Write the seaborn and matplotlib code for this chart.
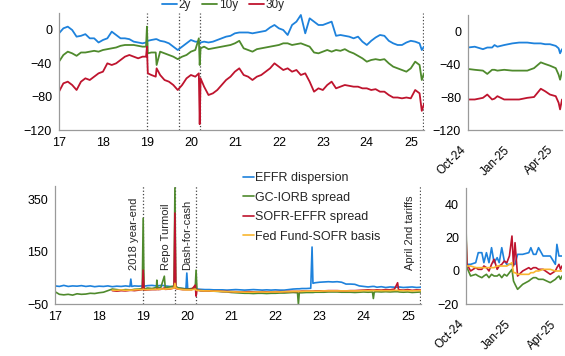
"""
Spreads de swap e indicadores de mercado monetário (recriação do gráfico)
"""
import numpy as np
import pandas as pd
import seaborn as sns
import matplotlib.pyplot as plt
import matplotlib.dates as mdates

nan = np.nan

# ---------------- dados: painel superior (anos, 17 = 2017) ----------------
years_top = [17.0, 17.1, 17.2, 17.3, 17.4, 17.5, 17.6, 17.7, 17.8, 17.9,
             18.0, 18.1, 18.2, 18.3, 18.4, 18.5, 18.6, 18.7, 18.8, 18.9,
             18.98, 19.0, 19.02, 19.1, 19.2, 19.22, 19.3, 19.4, 19.5, 19.6,
             19.7, 19.8, 19.9, 20.0, 20.1, 20.18, 20.2, 20.22, 20.3, 20.4,
             20.5, 20.6, 20.7, 20.8, 20.9, 21.0, 21.1, 21.2, 21.3, 21.4,
             21.5, 21.6, 21.7, 21.8, 21.9, 22.0, 22.1, 22.2, 22.3, 22.4,
             22.5, 22.6, 22.7, 22.8, 22.9, 23.0, 23.1, 23.2, 23.3, 23.4,
             23.5, 23.6, 23.7, 23.8, 23.9, 24.0, 24.1, 24.2, 24.3, 24.4,
             24.5, 24.6, 24.7, 24.8, 24.9, 25.0, 25.1, 25.2, 25.25, 25.3]

spread_2y = [-4, 2, 4, 0, -8, -7, -5, -10, -10, -15,
             -12, -10, -2, -6, -10, -10, -11, -14, -15, -16,
             -15, -14, -13, -12, -11, -11, -13, -14, -16, -20,
             -24, -20, -16, -12, -14, -14, -16, -15, -14, -15,
             -14, -12, -10, -8, -7, -4, -3, -3, -3, -4,
             -3, -2, -1, 3, 6, 2, 0, -6, 6, 10,
             18, -4, 14, 10, 6, 6, 8, 10, -7, -6,
             -7, -8, -10, -8, -14, -18, -13, -9, -6, -7,
             -13, -16, -18, -18, -15, -13, -14, -16, -24, -20]

spread_10y = [-38, -30, -26, -28, -31, -27, -27, -26, -25, -26,
              -24, -23, -22, -21, -19, -18, -18, -18, -19, -20,
              -20, 4, -28, -27, -27, -42, -26, -28, -30, -32,
              -35, -32, -30, -26, -24, -10, -42, -22, -20, -23,
              -22, -21, -20, -19, -18, -16, -13, -22, -24, -26,
              -23, -22, -21, -20, -19, -18, -16, -16, -18, -17,
              -16, -18, -20, -27, -28, -26, -24, -26, -24, -25,
              -23, -26, -28, -31, -34, -38, -36, -35, -36, -35,
              -40, -44, -46, -48, -50, -46, -38, -42, -60, -52]

spread_30y = [-74, -64, -62, -66, -72, -62, -58, -60, -56, -52,
              -50, -40, -42, -40, -36, -32, -30, -32, -34, -32,
              -32, -20, -52, -54, -56, -46, -54, -60, -62, -66,
              -72, -66, -58, -54, -56, -52, -113, -58, -68, -78,
              -76, -72, -66, -60, -56, -50, -46, -54, -56, -60,
              -56, -54, -50, -46, -40, -44, -48, -46, -50, -48,
              -54, -52, -62, -74, -70, -72, -66, -62, -70, -68,
              -66, -67, -68, -68, -70, -70, -72, -71, -74, -74,
              -78, -81, -81, -82, -81, -82, -72, -76, -97, -89]

# zoom Out-24 a Abr-25
dates_zoom_top = ['2024-10-01', '2024-10-15', '2024-11-01', '2024-11-10', '2024-11-20',
                  '2024-11-25', '2024-12-01', '2024-12-15', '2025-01-01', '2025-01-15',
                  '2025-02-01', '2025-02-15', '2025-03-01', '2025-03-10', '2025-03-20',
                  '2025-04-01', '2025-04-07', '2025-04-10', '2025-04-14']
zoom_2y = [-20, -19, -22, -20, -20, -17, -19, -17, -15, -14,
           -14, -15, -15, -16, -16, -18, -21, -27, -22]
zoom_10y = [-46, -47, -48, -52, -47, -47, -48, -47, -48, -48,
            -48, -45, -38, -40, -42, -45, -53, -59, -49]
zoom_30y = [-83, -83, -81, -77, -83, -82, -79, -83, -83, -83,
            -81, -80, -70, -73, -77, -79, -87, -95, -83]

# ---------------- dados: painel inferior ----------------
years_bottom = [17.0, 17.1, 17.2, 17.3, 17.4, 17.5, 17.6, 17.7, 17.8, 17.9,
                18.0, 18.1, 18.2, 18.3, 18.4, 18.5, 18.6, 18.7, 18.72, 18.74,
                18.8, 18.9, 18.98, 19.0, 19.02, 19.1, 19.2, 19.3, 19.31, 19.33,
                19.4, 19.48, 19.5, 19.6, 19.7, 19.72, 19.74, 19.8, 19.9, 19.97,
                19.99, 20.01, 20.1, 20.18, 20.2, 20.22, 20.3, 20.4, 20.5, 20.6,
                20.7, 20.8, 20.9, 21.0, 21.1, 21.2, 21.3, 21.4, 21.5, 21.6,
                21.7, 21.8, 21.9, 22.0, 22.1, 22.2, 22.3, 22.4, 22.5, 22.52,
                22.54, 22.6, 22.7, 22.8, 22.83, 22.85, 22.9, 23.0, 23.1, 23.2,
                23.3, 23.4, 23.5, 23.6, 23.7, 23.8, 23.9, 24.0, 24.1, 24.2,
                24.22, 24.24, 24.3, 24.4, 24.5, 24.6, 24.7, 24.77, 24.79, 24.8,
                24.9, 25.0, 25.1, 25.2, 25.3]

effr_dispersion = [20, 18, 22, 18, 20, 19, 21, 18, 20, 17,
                   19, 18, 20, 17, 19, 18, 20, 18, 46, 18,
                   20, 19, 20, 20, 19, 21, 22, 20, 20, 20,
                   22, 21, 20, 18, 16, 16, 14, 12, 10, 9,
                   69, 9, 9, 9, 8, 8, 7, 6, 6, 5,
                   5, 5, 4, 5, 6, 5, 4, 5, 6, 5,
                   4, 5, 4, 5, 4, 4, 6, 8, 9, 9,
                   9, 10, 10, 11, 168, 30, 32, 34, 35, 36,
                   35, 36, 34, 27, 27, 26, 20, 18, 16, 18,
                   18, 18, 15, 17, 14, 16, 15, 15, 15, 16,
                   14, 15, 16, 14, 15]

gc_iorb = [-2, -12, -14, -12, -15, -10, -12, -11, -8, -9,
           -6, -4, 2, 8, 6, 4, 6, 5, 5, 5,
           7, 8, 10, 277, 8, 12, 10, 14, 42, 12,
           14, 57, 14, 16, 20, 393, 18, 12, 10, 8,
           8, 8, 10, 12, 80, 6, 2, 1, 0, 0,
           -1, -2, -3, -5, -6, -7, -8, -8, -9, -8,
           -8, -9, -8, -8, -7, -7, -6, -5, -6, -50,
           -6, -6, -5, -5, -5, -5, -4, -4, -4, -3,
           -3, -3, -4, -4, -4, -5, -4, -3, -4, -3,
           -28, -3, -2, -3, -2, -3, -2, -2, -2, -3,
           -4, -3, -5, -4, -3]

sofr_effr = [nan, nan, nan, nan, nan, nan, nan, nan, nan, nan,
             nan, nan, nan, 2, 0, 2, 1, 3, 3, 3,
             2, 4, 6, 80, 4, 5, 6, 6, 10, 6,
             7, 12, 7, 8, 12, 297, 10, 8, 6, 6,
             6, 6, 6, 23, -19, 4, 2, 1, 1, 0,
             0, -1, -1, -2, -2, -3, -3, -2, -3, -3,
             -2, -3, -3, -2, -2, -2, -1, -1, -1, -1,
             -1, 0, 0, 0, 0, 0, 1, 1, 1, 2,
             2, 2, 1, 1, 2, 2, 3, 4, 5, 4,
             4, 4, 5, 4, 6, 5, 8, 32, 6, 5,
             4, 6, 3, 5, 4]

ff_sofr_basis = [nan, nan, nan, nan, nan, nan, nan, nan, nan, nan,
                 nan, nan, nan, 4, 3, 5, 3, 4, 4, 4,
                 5, 6, 6, 8, 6, 6, 7, 7, 7, 7,
                 8, 8, 8, 9, 12, 30, 12, 8, 6, 5,
                 5, 5, 5, 8, 4, 3, 2, 1, 1, 0,
                 0, -1, -2, -2, -3, -3, -4, -4, -4, -3,
                 -3, -4, -3, -3, -3, -2, -2, -1, -1, -1,
                 -1, -1, 0, 0, 0, 0, 0, 0, 1, 1,
                 1, 1, 1, 1, 1, 1, 1, 2, 2, 2,
                 2, 2, 2, 2, 2, 2, 3, 3, 3, 2,
                 2, 2, 1, 2, 2]

dates_zoom_bottom = ['2024-10-01', '2024-10-03', '2024-10-10', '2024-10-20', '2024-10-25',
                     '2024-11-01', '2024-11-05', '2024-11-10', '2024-11-15', '2024-11-20',
                     '2024-11-25', '2024-12-01', '2024-12-05', '2024-12-10', '2024-12-15',
                     '2024-12-20', '2024-12-25', '2024-12-30', '2025-01-02', '2025-01-05',
                     '2025-01-10', '2025-01-20', '2025-02-01', '2025-02-05', '2025-02-10',
                     '2025-02-15', '2025-02-20', '2025-03-01', '2025-03-15', '2025-03-25',
                     '2025-03-28', '2025-04-01', '2025-04-04', '2025-04-07']
zoom_effr = [4, 4, 4, 5, 11, 11, 5, 11, 5, 14,
             5, 8, 5, 14, 6, 4, 4, 4, 4, 4,
             10, 10, 11, 14, 10, 10, 14, 9, 9, 4,
             16, 9, 9, 9]
zoom_gc = [26, 2, -3, -2, -3, -4, -3, -2, -4, -2,
           -3, -3, -2, -4, -2, -3, -1, 1, -6, -8,
           -11, -8, -6, -5, -4, -4, -5, -5, -7, -5,
           -4, -3, -5, -3]
zoom_sofr = [21, 4, 0, 2, 1, 1, 3, 2, 0, 4,
             7, 1, 3, 4, 6, 5, 9, 21, 3, 17,
             -3, 0, 2, 1, 2, 2, 1, 1, -2, 0,
             2, 4, 1, 3]
zoom_basis = [3, 3, 3, 2, 2, 2, 2, 2, 2, 2,
              2, 3, 3, 3, 3, 3, 4, 5, -1, -1,
              -2, -2, -2, -1, -1, 0, 0, 1, 1, 0,
              0, 0, 0, 0]

# eventos marcados com linhas verticais
event_years = [19.0, 19.72, 20.2, 25.27]
event_labels = ['2018 year-end', 'Repo Turmoil', 'Dash-for-cash', 'April 2nd tariffs']

year_ticks = [17, 18, 19, 20, 21, 22, 23, 24, 25]
zoom_ticks = ['2024-10-01', '2025-01-01', '2025-04-01']

# ---------------- estilo ----------------
sns.set_style('white')
plt.rcParams['font.family'] = ['Liberation Sans', 'DejaVu Sans']
plt.rcParams['font.size'] = 9

c_blue = '#1e82dc'
c_green = '#4f8a2d'
c_red = '#bf142e'
c_orange = '#f8b630'
c_spine = '#9a9a9a'


def style_axis(ax):
    """Eixos só à esquerda e em baixo, cinza, ticks para fora."""
    sns.despine(ax=ax)
    for side in ['left', 'bottom']:
        ax.spines[side].set_color(c_spine)
        ax.spines[side].set_linewidth(0.9)
    ax.tick_params(axis='both', direction='out', length=3, width=0.8,
                   color=c_spine, labelsize=9, labelcolor='black', pad=2)
    ax.set_xlabel(None)
    ax.set_ylabel(None)


def style_date_axis(ax):
    """Datas inclinadas a 45 graus, como no original."""
    ax.set_xticks(pd.to_datetime(zoom_ticks))
    ax.xaxis.set_major_formatter(mdates.DateFormatter('%b-%y'))
    ax.tick_params(axis='x', pad=7, labelsize=8.5)
    plt.setp(ax.get_xticklabels(), rotation=45, ha='right')


fig = plt.figure(figsize=(5.65, 3.56), dpi=100)

ax_top = fig.add_axes([0.1044, 0.6348, 0.6460, 0.3278])
ax_top_zoom = fig.add_axes([0.8283, 0.6348, 0.1664, 0.3244])
ax_bot = fig.add_axes([0.0973, 0.1452, 0.6478, 0.3323])
ax_bot_zoom = fig.add_axes([0.8248, 0.1452, 0.1699, 0.3275])

# painel superior principal
lw = 1.3
sns.lineplot(x=years_top, y=spread_2y, ax=ax_top, color=c_blue, lw=lw, label='2y')
sns.lineplot(x=years_top, y=spread_10y, ax=ax_top, color=c_green, lw=lw, label='10y')
sns.lineplot(x=years_top, y=spread_30y, ax=ax_top, color=c_red, lw=lw, label='30y')
for ev in event_years:
    ax_top.axvline(ev, ls=':', color='#444444', lw=0.9, zorder=0)
ax_top.set_xlim(17, 25.3)
ax_top.set_ylim(-120, 20)
ax_top.set_xticks(year_ticks)
ax_top.set_yticks([-120, -80, -40, 0])
style_axis(ax_top)
handles_top, labels_top = ax_top.get_legend_handles_labels()
ax_top.get_legend().remove()

# painel superior zoom
d_top = pd.to_datetime(dates_zoom_top)
sns.lineplot(x=d_top, y=zoom_2y, ax=ax_top_zoom, color=c_blue, lw=lw)
sns.lineplot(x=d_top, y=zoom_10y, ax=ax_top_zoom, color=c_green, lw=lw)
sns.lineplot(x=d_top, y=zoom_30y, ax=ax_top_zoom, color=c_red, lw=lw)
ax_top_zoom.set_xlim(pd.Timestamp('2024-10-01'), pd.Timestamp('2025-04-14'))
ax_top_zoom.set_ylim(-120, 20)
ax_top_zoom.set_yticks([-120, -80, -40, 0])
style_axis(ax_top_zoom)
style_date_axis(ax_top_zoom)

# painel inferior principal
lw2 = 1.2
sns.lineplot(x=years_bottom, y=effr_dispersion, ax=ax_bot, color=c_blue, lw=lw2,
             label='EFFR dispersion')
sns.lineplot(x=years_bottom, y=gc_iorb, ax=ax_bot, color=c_green, lw=lw2,
             label='GC-IORB spread')
sns.lineplot(x=years_bottom, y=sofr_effr, ax=ax_bot, color=c_red, lw=lw2,
             label='SOFR-EFFR spread')
sns.lineplot(x=years_bottom, y=ff_sofr_basis, ax=ax_bot, color=c_orange, lw=lw2,
             label='Fed Fund-SOFR basis')
for ev, lab in zip(event_years, event_labels):
    ax_bot.axvline(ev, ls=':', color='#444444', lw=0.9, zorder=0)
    ax_bot.annotate(lab, xy=(ev, 82), xytext=(-3, 0), textcoords='offset points',
                    rotation=90, ha='right', va='bottom', fontsize=8)
ax_bot.set_xlim(17, 25.3)
ax_bot.set_ylim(-50, 400)
ax_bot.set_xticks(year_ticks)
ax_bot.set_yticks([-50, 150, 350])
style_axis(ax_bot)
handles_bot, labels_bot = ax_bot.get_legend_handles_labels()
ax_bot.get_legend().remove()

# painel inferior zoom
d_bot = pd.to_datetime(dates_zoom_bottom)
sns.lineplot(x=d_bot, y=zoom_effr, ax=ax_bot_zoom, color=c_blue, lw=lw2)
sns.lineplot(x=d_bot, y=zoom_gc, ax=ax_bot_zoom, color=c_green, lw=lw2)
sns.lineplot(x=d_bot, y=zoom_sofr, ax=ax_bot_zoom, color=c_red, lw=lw2)
sns.lineplot(x=d_bot, y=zoom_basis, ax=ax_bot_zoom, color=c_orange, lw=lw2)
ax_bot_zoom.set_xlim(pd.Timestamp('2024-10-01'), pd.Timestamp('2025-04-07'))
ax_bot_zoom.set_ylim(-20, 50)
ax_bot_zoom.set_yticks([-20, 0, 20, 40])
style_axis(ax_bot_zoom)
style_date_axis(ax_bot_zoom)

# legendas
fig.legend(handles_top, labels_top, loc='center', bbox_to_anchor=(0.395, 0.986),
           ncol=3, frameon=False, fontsize=8.5, handlelength=1.3,
           handletextpad=0.15, columnspacing=0.9, borderpad=0, borderaxespad=0)
fig.legend(handles_bot, labels_bot, loc='upper left', bbox_to_anchor=(0.430, 0.516),
           ncol=1, frameon=False, fontsize=9, handlelength=0.85,
           handletextpad=0.15, labelspacing=0.6, borderpad=0, borderaxespad=0)

plt.savefig('out.png', dpi=100)
plt.close()
